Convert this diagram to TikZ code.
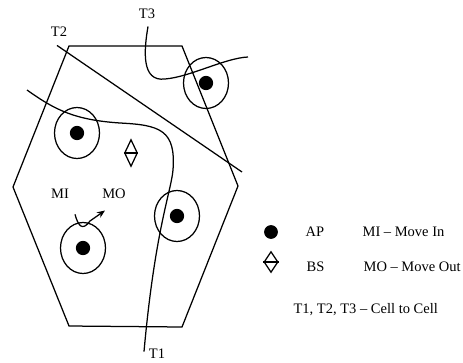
\documentclass[tikz,border=0pt]{standalone}
\usepackage{fontspec}
\setmainfont{Liberation Serif}
\usetikzlibrary{scopes,positioning,shapes.geometric,arrows.meta}
\tikzset{
  mycell/.style={draw,ellipse,minimum width=45pt,minimum height=51pt,inner sep=0pt},
  myap/.style={draw,circle,fill,minimum size=13pt,inner sep=0pt},
  mybs/.style={draw,diamond,minimum width=13pt,minimum height=27pt,inner sep=0pt},
  mylabel/.style={inner sep=1pt,font=\fontsize{14.5}{17}\selectfont},
  mykey/.style={mylabel,anchor=west},
  route/.style={line width=1.25pt},
  moveroute/.style={route,-{Stealth[length=8pt,width=6.5pt]}}
}
\begin{document}
\begin{tikzpicture}[x=1pt,y=-1pt,line width=1.25pt]
  \useasboundingbox (0,0) rectangle (463,362);
  % the cell
  \draw (69,46) -- (182,46) -- (238,186) -- (182,327) -- (69,326) -- (13,187) -- cycle;
  % access points with their coverage
  \foreach \n/\x/\y in {a/206/83, b/77/133, c/83/248, d/177/216} {
    \node[mycell] (cell-\n) at (\x,\y) {};
    \node[myap] (ap-\n) at (cell-\n.center) {};
  }
  \node[mybs] (bs) at (131,153) {};
  \draw (bs.west) -- (bs.east);
  % labels
  \node[mylabel] (t1) at (157,354) {T1};
  \node[mylabel] (t2) at (59,32) {T2};
  \node[mylabel] (t3) at (147,14) {T3};
  \node[mylabel] (mi) at (60,194) {MI};
  \node[mylabel] (mo) at (114,194) {MO};
  \coordinate (t1-start) at (27,90);
  \coordinate (t2-end) at (242,172);
  \coordinate (t3-end) at (248,57);
  {[route]
    \draw (t1-start) .. controls (55,110) and (75,120) .. (120,123)
      .. controls (160,125) and (176,130) .. (173,170)
      .. controls (171,192) and (155,230) .. ([shift={(-13pt,-4pt)}]t1.north);
    \draw ([shift={(-2pt,-7pt)}]t2.south) -- (t2-end);
    \draw ([shift={(1pt,-6pt)}]t3.south) .. controls (144,50) and (141,82) .. (165,79)
      .. controls (190,77) and (225,58) .. (t3-end);
  }
  {[moveroute]
    \draw ([shift={(15pt,-14pt)}]mi.south) .. controls (78,225) and (82,232) .. (90,221)
      -- ([shift={(-9pt,-10pt)}]mo.south);
  }
  % key
  \node[myap,minimum size=12.5pt] (key-ap) at (271,232) {};
  \node[mybs,minimum width=14pt,minimum height=21pt] (key-bs) at (271,262) {};
  \draw (key-bs.west) -- (key-bs.east);
  \node[mykey] (key-ap-text) at (304,232) {AP};
  \node[mykey] (key-mi-text) at (361,232) {MI -- Move In};
  \node[mykey] (key-bs-text) at (305,267) {BS};
  \node[mykey] (key-mo-text) at (362,267) {MO -- Move Out};
  \node[mykey] (key-t-text) at (292,310) {T1, T2, T3 -- Cell to Cell};
\end{tikzpicture}
\end{document}
